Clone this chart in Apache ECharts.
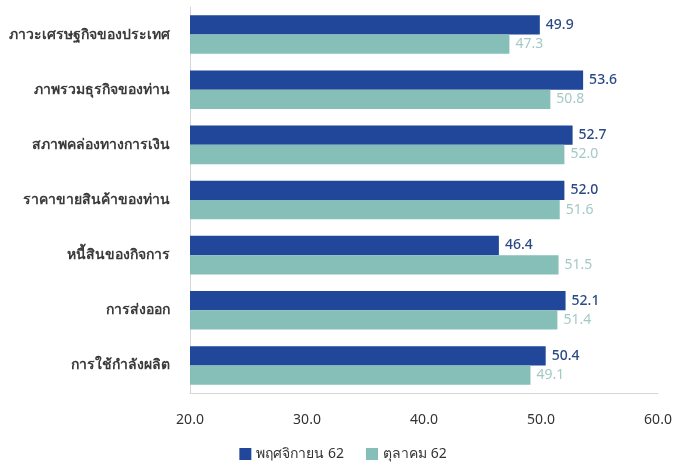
<!DOCTYPE html>
<html><head><meta charset="utf-8">
<script src="https://cdn.jsdelivr.net/npm/echarts@6/dist/echarts.min.js"></script>
<style>html,body{margin:0;padding:0;background:#fff}#c{width:686px;height:469px}</style>
</head><body><div id="c"></div>
<script>
const categories = ['ภาวะเศรษฐกิจของประเทศ','ภาพรวมธุรกิจของท่าน','สภาพคล่องทางการเงิน','ราคาขายสินค้าของท่าน','หนี้สินของกิจการ','การส่งออก','การใช้กำลังผลิต'];
const seriesNames = ['พฤศจิกายน 62','ตุลาคม 62'];
const novValues = [49.9, 53.6, 52.7, 52.0, 46.4, 52.1, 50.4];
const octValues = [47.3, 50.8, 52.0, 51.6, 51.5, 51.4, 49.1];
const xTicks = [20, 30, 40, 50, 60];

const font = 'Noto Sans, DejaVu Sans, sans-serif';
const chart = echarts.init(document.getElementById('c'));
chart.setOption({
  animation: false,
  textStyle: {fontFamily: font},
  grid: {left: 190, right: 28, top: 7, bottom: 76, containLabel: false},
  legend: {
    bottom: 3, left: 'center', itemWidth: 12, itemHeight: 12, itemGap: 22, icon: 'rect',
    textStyle: {fontSize: 14, color: '#333', fontFamily: font},
    data: seriesNames
  },
  xAxis: {
    type: 'value', min: xTicks[0], max: xTicks[xTicks.length-1], interval: 10,
    axisLine: {show: true, lineStyle: {color: '#d6d6d6'}},
    axisTick: {show: false}, splitLine: {show: false},
    axisLabel: {margin: 20, fontSize: 14, color: '#333', formatter: v => v.toFixed(1)}
  },
  yAxis: {
    type: 'category', data: categories, inverse: true,
    axisLine: {show: true, lineStyle: {color: '#d6d6d6'}},
    axisTick: {show: false},
    axisLabel: {margin: 20, fontSize: 14, fontWeight: 'bold', color: '#3a3a3a'}
  },
  series: [
    {name: seriesNames[0], type: 'bar', data: novValues, barCategoryGap: '30%', barGap: '0%',
     itemStyle: {color: '#20479a'},
     label: {show: true, position: 'right', distance: 6, color: '#2b4a85', fontSize: 14, fontWeight: 500, formatter: p => p.value.toFixed(1)}},
    {name: seriesNames[1], type: 'bar', data: octValues, barCategoryGap: '30%', barGap: '0%',
     itemStyle: {color: '#85bfb8'},
     label: {show: true, position: 'right', distance: 6, color: '#a3c9c6', fontSize: 14, formatter: p => p.value.toFixed(1)}}
  ]
});
</script></body></html>
